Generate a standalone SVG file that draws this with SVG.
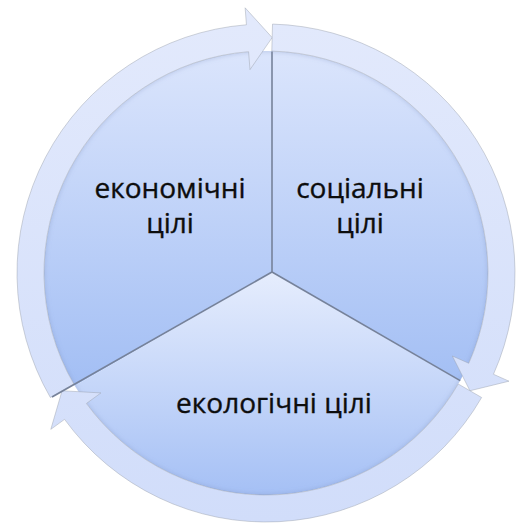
<svg xmlns="http://www.w3.org/2000/svg" width="516" height="524" viewBox="0 0 516 524">
<defs>
<linearGradient id="gUp" gradientUnits="userSpaceOnUse" x1="0" y1="51" x2="0" y2="390">
<stop offset="0" stop-color="#dbe5fc"/>
<stop offset="1" stop-color="#a2bef4"/>
</linearGradient>
<linearGradient id="gBot" gradientUnits="userSpaceOnUse" x1="0" y1="272" x2="0" y2="495">
<stop offset="0" stop-color="#e6edfd"/>
<stop offset="1" stop-color="#a5c0f5"/>
</linearGradient>
<linearGradient id="gRing" gradientUnits="userSpaceOnUse" x1="0" y1="24" x2="0" y2="522">
<stop offset="0" stop-color="#e2e9fc"/>
<stop offset="1" stop-color="#d1ddfa"/>
</linearGradient>
<filter id="soft" x="-10%" y="-10%" width="120%" height="120%">
<feGaussianBlur stdDeviation="2"/>
</filter>
<clipPath id="pieClip"><circle cx="266" cy="273" r="222"/></clipPath>
</defs>
<style>
.lbl{font-family:"Open Sans","Noto Sans","Liberation Sans",sans-serif;font-size:28px;fill:#0d0d0d;stroke:#0d0d0d;stroke-width:0.35;text-anchor:middle}
.arrow{fill:url(#gRing);stroke:#9aa0aa;stroke-opacity:0.45;stroke-width:1}
.spoke{stroke:#76829a;stroke-width:1.6;fill:none}
</style>
<rect width="516" height="524" fill="#ffffff"/>
<g id="node-economic">
<path d="M272,272 L74.8,385.8 A222,222 0 0 1 272,51.1 Z" fill="url(#gUp)"/>
<text class="lbl" x="170" y="198">економічні</text>
<text class="lbl" x="170" y="233">цілі</text>
</g>
<g id="node-social">
<path d="M272,272 L272,51.1 A222,222 0 0 1 460.2,380.6 Z" fill="url(#gUp)"/>
<text class="lbl" x="360" y="198">соціальні</text>
<text class="lbl" x="360" y="233">цілі</text>
</g>
<g id="node-ecological">
<path d="M272,272 L460.2,380.6 A222,222 0 0 1 74.8,385.8 Z" fill="url(#gBot)"/>
<text class="lbl" x="274" y="413">екологічні цілі</text>
</g>
<g id="pie-rim" clip-path="url(#pieClip)">
<circle cx="266" cy="273" r="223" fill="none" stroke="#7f93c2" stroke-width="4" stroke-opacity="0.35" filter="url(#soft)"/>
</g>
<g id="connectors">
<path class="arrow" d="M50.36,397.5 A249,249 0 0 1 246.46,24.77 L245.13,7.82 L272.17,37.58 L249.99,69.63 L248.58,51.68 A222,222 0 0 0 73.74,384 Z"/>
<path class="arrow" d="M272.52,24.08 A249,249 0 0 1 493.47,374.28 L509,381.19 L469.95,390.75 L452.36,355.97 L468.81,363.3 A222,222 0 0 0 271.81,51.08 Z"/>
<path class="arrow" d="M481.64,397.5 A249,249 0 0 1 64.55,419.36 L50.8,429.35 L62.05,390.75 L100.96,392.91 L86.4,403.49 A222,222 0 0 0 458.26,384 Z"/>
<line class="spoke" x1="272" y1="272" x2="272" y2="51.5"/>
<line class="spoke" x1="272" y1="272" x2="460.2" y2="380.6"/>
<line class="spoke" x1="272" y1="272" x2="52" y2="397"/>
</g>
</svg>
